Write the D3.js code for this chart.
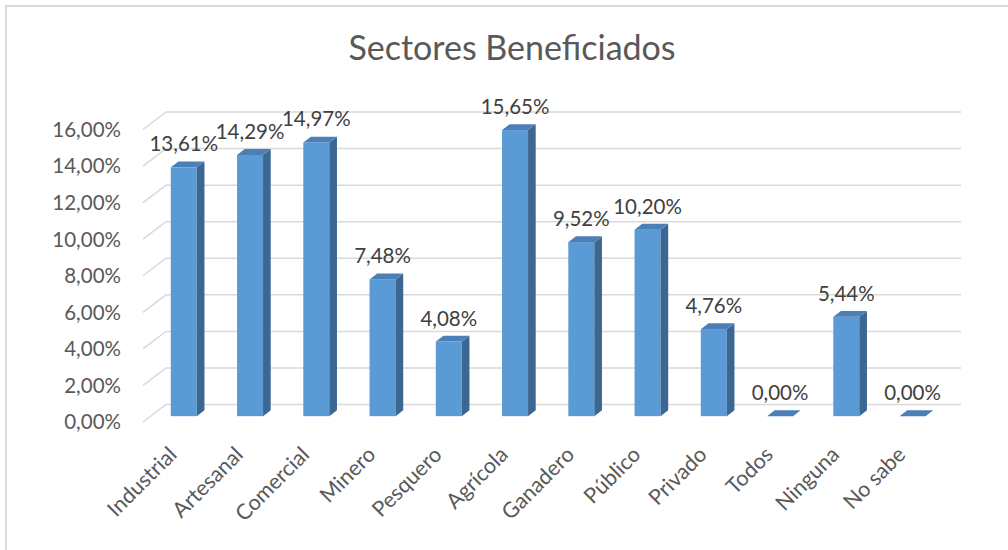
<!DOCTYPE html>
<html>
<head>
<meta charset="utf-8">
<title>Sectores Beneficiados</title>
<script src="https://d3js.org/d3.v7.min.js"></script>
<style>
  body { margin: 0; background: #fff; }
  text { font-family: Lato, "Open Sans", sans-serif; }
</style>
</head>
<body>
<svg class="chart"></svg>
<script>
var categories = ["Industrial", "Artesanal", "Comercial", "Minero", "Pesquero", "Agrícola",
                  "Ganadero", "Público", "Privado", "Todos", "Ninguna", "No sabe"];
var values = [13.61, 14.29, 14.97, 7.48, 4.08, 15.65, 9.52, 10.20, 4.76, 0.00, 5.44, 0.00];
var yTicks = [0, 2, 4, 6, 8, 10, 12, 14, 16];

var svgWidth = 1008, svgHeight = 550;
// 3D depth of the floor / walls
var depthX = 23, depthY = -17.5;

var fmt = v => v.toFixed(2).replace(".", ",") + "%";

var svg = d3.select(".chart")
    .attr("width", svgWidth)
    .attr("height", svgHeight);

// outer border (only top/left visible in the crop)
svg.append("rect")
    .attr("x", 6).attr("y", 6)
    .attr("width", 1100).attr("height", 700)
    .attr("fill", "none")
    .attr("stroke", "#d9d9d9")
    .attr("stroke-width", 2);

svg.append("text")
    .attr("x", 512).attr("y", 60)
    .attr("text-anchor", "middle")
    .attr("font-size", 34)
    .attr("fill", "#595959")
    .text("Sectores Beneficiados");

var xScale = d3.scaleBand().domain(categories).range([143, 938]);
var yScale = d3.scaleLinear().domain([0, 16]).range([422, 129.5]);

// gridlines: left wall diagonal + back wall
svg.append("g").selectAll("polyline")
    .data(yTicks).enter().append("polyline")
    .attr("points", d => {
        var y = yScale(d);
        return [[143, y], [143 + depthX, y + depthY], [938 + depthX, y + depthY]].join(" ");
    })
    .attr("fill", "none")
    .attr("stroke", "#d9d9d9")
    .attr("stroke-width", 1.5);

// y axis labels
svg.append("g").selectAll("text")
    .data(yTicks).enter().append("text")
    .attr("x", 121)
    .attr("y", d => yScale(d))
    .attr("dy", "0.36em")
    .attr("text-anchor", "end")
    .attr("font-size", 20.5)
    .attr("fill", "#595959")
    .text(d => fmt(d));

// bars (sitting in the middle third of the depth)
var barW = 26;
var offX = depthX / 3, offY = depthY / 3;
var bars = svg.append("g").selectAll("g")
    .data(values).enter().append("g");

function bx(i) { return xScale(categories[i]) + xScale.bandwidth() / 2 - barW / 2 + offX; }
function by(v) { return yScale(v) + offY; }

bars.append("rect")
    .attr("x", (d, i) => bx(i))
    .attr("y", d => by(d))
    .attr("width", barW)
    .attr("height", d => by(0) - by(d))
    .attr("fill", "#5b9bd5");

bars.append("polygon")
    .attr("points", (d, i) => {
        var x = bx(i) + barW, yt = by(d), yb = by(0);
        return [[x, yt], [x + offX, yt + offY], [x + offX, yb + offY], [x, yb]].join(" ");
    })
    .attr("fill", "#3c6792");

bars.append("polygon")
    .attr("points", (d, i) => {
        var x = bx(i), yt = by(d);
        return [[x, yt], [x + barW, yt], [x + barW + offX, yt + offY], [x + offX, yt + offY]].join(" ");
    })
    .attr("fill", "#4a7fb8");

// data labels
bars.append("text")
    .attr("x", (d, i) => bx(i) + barW / 2)
    .attr("y", d => by(d) - 16)
    .attr("text-anchor", "middle")
    .attr("font-size", 20.5)
    .attr("fill", "#404040")
    .text(d => fmt(d));

// category labels
svg.append("g").selectAll("text")
    .data(categories).enter().append("text")
    .attr("transform", d => "translate(" + (xScale(d) + xScale.bandwidth() / 2 + 2) + ",456) rotate(-45)")
    .attr("text-anchor", "end")
    .attr("font-size", 21.5)
    .attr("fill", "#595959")
    .text(d => d);
</script>
</body>
</html>
